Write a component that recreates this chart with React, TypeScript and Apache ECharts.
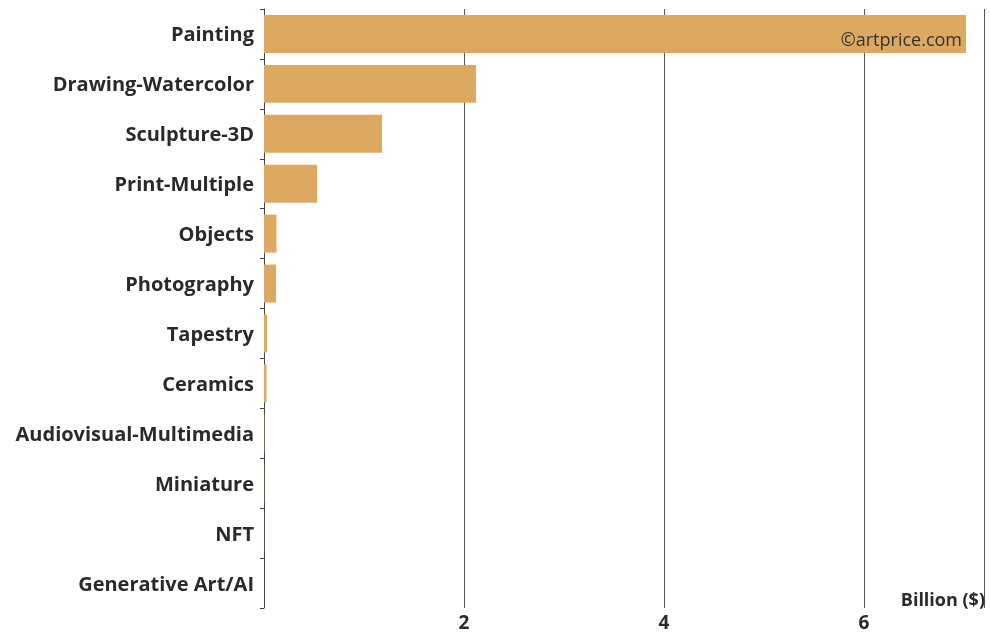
import React, { useEffect, useRef } from "react";
import * as echarts from "echarts";

const categories = [
  "Painting",
  "Drawing-Watercolor",
  "Sculpture-3D",
  "Print-Multiple",
  "Objects",
  "Photography",
  "Tapestry",
  "Ceramics",
  "Audiovisual-Multimedia",
  "Miniature",
  "NFT",
  "Generative Art/AI",
];
const values = [7.02, 2.12, 1.18, 0.53, 0.125, 0.12, 0.03, 0.025, 0.004, 0.002, 0.001, 0.0005];
const xTicks = [0, 2, 4, 6];

export default function App() {
  const ref = useRef<HTMLDivElement>(null);
  useEffect(() => {
    if (!ref.current) return;
    const chart = echarts.init(ref.current, null, { renderer: "svg" });
    chart.setOption({
      animation: false,
      textStyle: { fontFamily: "Open Sans" },
      grid: { left: 264, right: 6, top: 9, bottom: 25, containLabel: false },
      xAxis: {
        type: "value",
        min: 0,
        max: 7.2,
        interval: 2,
        axisLine: { show: false },
        axisTick: { show: false },
        splitLine: { show: true, lineStyle: { color: "#555", width: 1 } },
        axisLabel: {
          color: "#2a2a2a",
          fontSize: 19,
          lineHeight: 19,
          fontWeight: "bold",
          margin: 4,
          formatter: (v: number) => (xTicks.includes(v) && v !== 0 ? String(v) : ""),
        },
      },
      yAxis: {
        type: "category",
        data: categories,
        inverse: true,
        axisLine: { show: true, lineStyle: { color: "#444", width: 1 } },
        axisTick: { show: true, length: 4, lineStyle: { color: "#444" } },
        axisLabel: { color: "#2a2a2a", fontSize: 20, fontWeight: "bold", margin: 10 },
      },
      series: [
        {
          type: "bar",
          data: values,
          barCategoryGap: "24%",
          itemStyle: { color: "#DDA960" },
        },
      ],
      graphic: [
        {
          type: "text",
          right: 28,
          top: 30,
          z: 100,
          style: { text: "©artprice.com", fill: "#333", font: "18px 'Open Sans'" },
        },
        {
          type: "text",
          right: 5,
          top: 590,
          z: 100,
          style: { text: "Billion ($)", fill: "#2a2a2a", font: "bold 18px 'Open Sans'" },
        },
      ],
    });
    return () => chart.dispose();
  }, []);
  return (
    <div
      ref={ref}
      style={{ position: "fixed", left: 0, top: 0, width: 990, height: 633 }}
    />
  );
}
